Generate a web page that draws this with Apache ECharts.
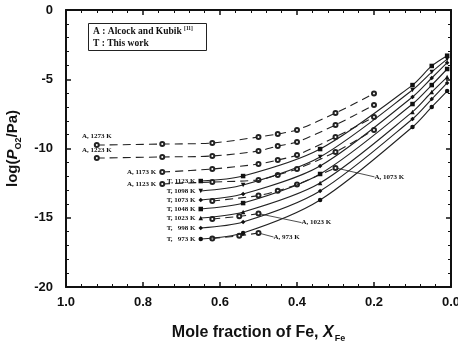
<!DOCTYPE html>
<html>
<head>
<meta charset="utf-8">
<script src="https://cdn.jsdelivr.net/npm/echarts@6/dist/echarts.min.js"></script>
<style>
  html, body { margin: 0; padding: 0; background: #fff; }
  #chart { width: 458px; height: 342px; }
</style>
</head>
<body>
<div id="chart"></div>
<script>
// mole fraction of Fe for each data set
var xA_long = [0.92, 0.75, 0.62, 0.5, 0.45, 0.4, 0.3, 0.2];
var xA_mid = [0.75, 0.62, 0.5, 0.45, 0.4, 0.3, 0.2];
var xA_1073 = [0.62, 0.5, 0.45, 0.4, 0.3];
var xA_short = [0.62, 0.55, 0.5];
var xT = [0.65, 0.54, 0.34, 0.1, 0.05, 0.01];

// A : Alcock and Kubik, log(P_O2/Pa)
var a1273 = [-9.75, -9.68, -9.60, -9.17, -8.95, -8.66, -7.44, -6.03];
var a1223 = [-10.69, -10.61, -10.54, -10.18, -9.82, -9.53, -8.30, -6.86];
var a1173 = [-11.70, -11.48, -11.12, -10.83, -10.47, -9.17, -7.73];
var a1123 = [-12.56, -12.42, -12.27, -11.91, -11.48, -10.25, -8.66];
var a1073 = [-13.79, -13.40, -13.05, -12.60, -11.40];
var a1023 = [-15.09, -14.90, -14.70];
var a973 = [-16.50, -16.30, -16.10];

// T : this work
var t1123 = [-12.35, -11.99, -10.04, -5.42, -4.04, -3.30];
var t1098 = [-13.07, -12.64, -10.61, -5.78, -4.48, -3.55];
var t1073 = [-13.72, -13.29, -11.26, -6.28, -4.91, -3.80];
var t1048 = [-14.37, -13.94, -11.84, -6.79, -5.42, -4.26];
var t1023 = [-15.02, -14.58, -12.49, -7.36, -5.92, -4.84];
var t998 = [-15.74, -15.31, -13.07, -7.87, -6.43, -5.27];
var t973 = [-16.53, -16.10, -13.72, -8.45, -7.00, -5.85];

var xTicks = [1.0, 0.8, 0.6, 0.4, 0.2, 0.0];
var yTicks = [0, -5, -10, -15, -20];

var serif = "'Liberation Serif', 'Times New Roman', serif";
var sans = "'Liberation Sans', Arial, sans-serif";

var labelFont = { fontFamily: serif, fontWeight: 'bold', fontSize: 7, color: '#111' };

function pts(xs, ys, labelIdx, label) {
  return xs.map(function (x, i) {
    if (i === labelIdx) {
      return { value: [x, ys[i]], label: Object.assign({ show: true }, labelFont, label) };
    }
    return [x, ys[i]];
  });
}

function seriesA(name, xs, ys, labelIdx, label, extra) {
  return Object.assign({
    type: 'line',
    name: name,
    data: pts(xs, ys, labelIdx, label),
    smooth: 0.3,
    symbol: 'emptyCircle',
    symbolSize: 4,
    showAllSymbol: true,
    itemStyle: { color: '#222', borderWidth: 0.8 },
    lineStyle: { color: '#222', width: 1.1, type: [8, 5] },
    label: { show: false },
    z: 3
  }, extra || {});
}

function seriesT(name, xs, ys, sym, rot) {
  return {
    type: 'line',
    name: name,
    data: pts(xs, ys, 0, { position: 'left', distance: 3, formatter: name }),
    smooth: 0.3,
    symbol: sym,
    symbolRotate: rot || 0,
    symbolSize: 4.5,
    itemStyle: { color: '#111' },
    lineStyle: { color: '#222', width: 1.1 },
    label: { show: false },
    z: 4
  };
}

var guide = function (dx, dy) {
  return {
    labelLayout: { dx: dx, dy: dy },
    labelLine: { show: true, lineStyle: { color: '#222', width: 0.8 } }
  };
};

var series = [
  seriesA('A, 1273 K', xA_long, a1273, 0, { position: 'top', distance: 2, formatter: 'A, 1273 K' }),
  seriesA('A, 1223 K', xA_long, a1223, 0, { position: 'top', distance: 1, formatter: 'A, 1223 K' }),
  seriesA('A, 1173 K', xA_mid, a1173, 0, { position: 'left', distance: 3, formatter: 'A, 1173 K' }),
  seriesA('A, 1123 K', xA_mid, a1123, 0, { position: 'left', distance: 3, formatter: 'A, 1123 K' }),
  seriesA('A, 1073 K', xA_1073, a1073, 4, { position: 'right', distance: 4, formatter: 'A, 1073 K' }, guide(32, 9)),
  seriesA('A, 1023 K', xA_short, a1023, 2, { position: 'right', distance: 4, formatter: 'A, 1023 K' }, guide(36, 9)),
  seriesA('A, 973 K', xA_short, a973, 2, { position: 'right', distance: 4, formatter: 'A, 973 K' }, guide(8, 4)),
  seriesT('T, 1123 K', xT, t1123, 'rect'),
  seriesT('T, 1098 K', xT, t1098, 'triangle', 180),
  seriesT('T, 1073 K', xT, t1073, 'diamond'),
  seriesT('T, 1048 K', xT, t1048, 'rect'),
  seriesT('T, 1023 K', xT, t1023, 'triangle'),
  seriesT('T,   998 K', xT, t998, 'diamond'),
  seriesT('T,   973 K', xT, t973, 'circle')
];

var axisBase = {
  type: 'value',
  axisLine: { show: true, onZero: false, lineStyle: { color: '#111', width: 2 } },
  axisTick: { show: true, inside: true, length: 5, lineStyle: { color: '#111', width: 1.5 } },
  minorTick: { show: true, splitNumber: 5, length: 3, lineStyle: { color: '#111', width: 1 } },
  splitLine: { show: false },
  minorSplitLine: { show: false }
};

var option = {
  backgroundColor: '#fff',
  animation: false,
  title: {
    text: '{b|A : Alcock and Kubik }{sup|[11]}\n{b|T : This work}',
    left: 88,
    top: 23,
    padding: [3, 14, 2, 5],
    borderColor: '#222',
    borderWidth: 1,
    textStyle: {
      rich: {
        b: { fontFamily: serif, fontWeight: 'bold', fontSize: 9.5, lineHeight: 12, color: '#111' },
        sup: { fontFamily: serif, fontWeight: 'bold', fontSize: 5.5, lineHeight: 12, verticalAlign: 'top', color: '#111' }
      }
    }
  },
  grid: { left: 66, right: 7, top: 10, bottom: 55, outerBoundsMode: 'none', containLabel: false },
  xAxis: [
    Object.assign({}, axisBase, {
      min: 0, max: 1, interval: 0.2, inverse: true, position: 'bottom',
      axisLabel: {
        margin: 9, fontFamily: sans, fontWeight: 'bold', fontSize: 13, color: '#111',
        formatter: function (v) { return xTicks.indexOf(Math.round(v * 10) / 10) >= 0 ? v.toFixed(1) : ''; }
      },
      name: '{n|Mole fraction of Fe, }{i|X}{s|Fe}',
      nameLocation: 'middle',
      nameGap: 36,
      nameTextStyle: {
        rich: {
          n: { fontFamily: sans, fontWeight: 'bold', fontSize: 16, color: '#111', lineHeight: 20 },
          i: { fontFamily: sans, fontWeight: 'bold', fontStyle: 'italic', fontSize: 16, color: '#111', lineHeight: 20 },
          s: { fontFamily: sans, fontWeight: 'bold', fontSize: 9, color: '#111', lineHeight: 20, verticalAlign: 'bottom', padding: [0, 0, 0, 1] }
        }
      }
    }),
    Object.assign({}, axisBase, {
      min: 0, max: 1, interval: 0.2, inverse: true, position: 'top',
      axisLabel: { show: false }
    })
  ],
  yAxis: [
    Object.assign({}, axisBase, {
      min: -20, max: 0, interval: 5, position: 'left',
      axisLabel: {
        margin: 13, fontFamily: sans, fontWeight: 'bold', fontSize: 13, color: '#111',
        formatter: function (v) { return yTicks.indexOf(v) >= 0 ? String(v) : ''; }
      },
      name: '{n|log(}{i|P}{s|O2}{n|/Pa)}',
      nameLocation: 'middle',
      nameRotate: 90,
      nameGap: 40,
      nameTextStyle: {
        rich: {
          n: { fontFamily: sans, fontWeight: 'bold', fontSize: 15, color: '#111', lineHeight: 20 },
          i: { fontFamily: sans, fontWeight: 'bold', fontStyle: 'italic', fontSize: 15, color: '#111', lineHeight: 20 },
          s: { fontFamily: sans, fontWeight: 'bold', fontSize: 9, color: '#111', lineHeight: 20, verticalAlign: 'bottom' }
        }
      }
    }),
    Object.assign({}, axisBase, {
      min: -20, max: 0, interval: 5, position: 'right',
      axisLabel: { show: false }
    })
  ],
  series: series
};

var chart = echarts.init(document.getElementById('chart'), null, { renderer: 'canvas' });
chart.setOption(option);
</script>
</body>
</html>
